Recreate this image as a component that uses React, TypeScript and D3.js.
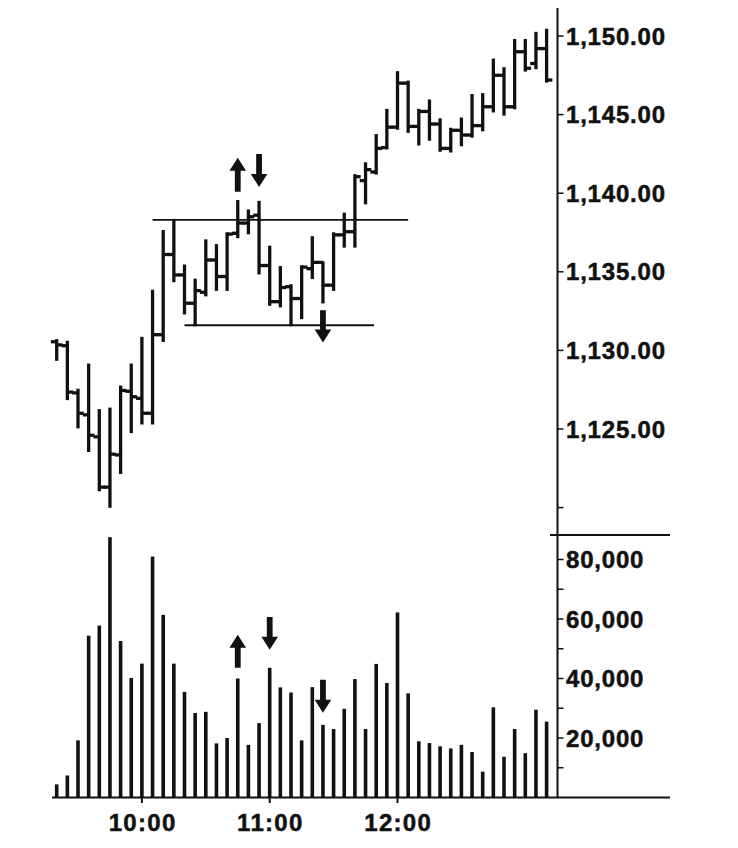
import React from 'react';
import * as d3 from 'd3';

// ---- data ----
const sessionStart = new Date(2010, 0, 4, 9, 20);
const barMinutes = 5;

const opens = [
  1130.55, 1130.3, 1127.3, 1125.9, 1124.5, 1121.3, 1123.35, 1127.4, 1126.95, 1126.0,
  1131.0, 1136.1, 1134.8, 1133.0, 1133.7, 1135.75, 1134.7, 1137.45, 1138.1, 1138.6,
  1135.4, 1133.1, 1134.05, 1133.3, 1135.2, 1135.6, 1134.15, 1137.35, 1137.55, 1140.8,
  1141.35, 1142.9, 1144.2, 1147.0, 1144.25, 1145.2, 1144.4, 1142.85, 1144.0, 1143.7,
  1144.3, 1145.5, 1147.5, 1145.5, 1149.0, 1148.25, 1149.2,
];
const highs = [
  1130.65, 1130.55, 1127.5, 1129.1, 1126.2, 1126.3, 1127.7, 1129.1, 1130.8, 1133.8,
  1137.6, 1138.3, 1135.4, 1134.5, 1137.0, 1136.7, 1137.45, 1139.5, 1138.9, 1139.45,
  1136.6, 1135.3, 1134.15, 1135.35, 1137.2, 1135.6, 1137.45, 1138.7, 1141.15, 1141.9,
  1143.7, 1145.3, 1147.7, 1147.1, 1145.3, 1145.9, 1144.7, 1144.1, 1144.75, 1146.25,
  1146.3, 1148.5, 1147.95, 1149.75, 1149.75, 1150.2, 1150.4,
];
const lows = [
  1129.4, 1126.9, 1125.1, 1123.6, 1121.1, 1120.05, 1122.2, 1124.8, 1125.35, 1125.35,
  1130.6, 1134.4, 1132.35, 1131.6, 1133.5, 1133.85, 1133.85, 1137.2, 1137.45, 1134.9,
  1132.9, 1132.8, 1131.6, 1132.05, 1134.6, 1133.05, 1133.85, 1136.6, 1136.6, 1139.35,
  1141.25, 1142.85, 1144.1, 1143.9, 1143.1, 1143.4, 1142.7, 1142.65, 1143.05, 1143.6,
  1144.0, 1145.2, 1145.0, 1145.4, 1147.8, 1147.95, 1147.1,
];
const closes = [
  1130.35, 1127.35, 1126.0, 1124.6, 1121.3, 1123.4, 1127.45, 1127.05, 1126.0, 1131.0,
  1136.1, 1134.8, 1133.0, 1133.8, 1135.75, 1134.7, 1137.4, 1138.1, 1138.5, 1135.4,
  1133.1, 1134.0, 1133.3, 1135.3, 1135.6, 1134.15, 1137.35, 1137.55, 1141.05, 1141.5,
  1142.85, 1144.2, 1147.0, 1144.25, 1145.2, 1144.4, 1142.85, 1144.0, 1143.7, 1144.3,
  1145.5, 1147.5, 1145.5, 1149.0, 1147.95, 1149.2, 1147.2,
];
const volumes = [
  4400, 7400, 19200, 54400, 57800, 87500, 52600, 40200, 45000, 81000,
  61400, 45000, 35500, 28400, 28800, 18200, 20000, 40000, 17700, 25000,
  43600, 37000, 35300, 19200, 37100, 24400, 23000, 29800, 39800, 23000,
  44900, 38500, 62200, 35000, 18900, 18300, 17200, 16500, 17700, 15300,
  8700, 30300, 13700, 23000, 14900, 29500, 25500,
];

const priceTicks = [1120, 1125, 1130, 1135, 1140, 1145, 1150];
const priceLabelValues = [1125, 1130, 1135, 1140, 1145, 1150];
const volumeTicks = [10000, 20000, 30000, 40000, 50000, 60000, 70000, 80000];
const volumeLabelValues = [20000, 40000, 60000, 80000];
const timeTickHours = [10, 11, 12];

// horizontal support / resistance lines: [start bar, end bar, price]
const levelStarts = [9, 12];
const levelEnds = [33, 29.8];
const levelPrices = [1138.3, 1131.6];

// arrows: bar index, tail value, tip value
const priceArrowBars = [17, 19, 25];
const priceArrowTails = [1140.1, 1142.5, 1132.55];
const priceArrowTips = [1142.25, 1140.4, 1130.5];
const volumeArrowBars = [17, 20, 25];
const volumeArrowTails = [43600, 60700, 39600];
const volumeArrowTips = [54700, 49700, 28500];

// ---- layout ----
const W = 738;
const H = 848;
const axisX = 557.5;
const rightEdge = 670;
const leftEdge = 52;
const INK = '#111';
const FONT = '"Liberation Sans", Arial, sans-serif';

const times = d3.range(opens.length).map((i) => d3.timeMinute.offset(sessionStart, i * barMinutes));
const barTime = (i: number) => new Date(sessionStart.getTime() + i * barMinutes * 60000);

export default function App() {
  const x = d3.scaleTime().domain([times[0], times[times.length - 1]]).range([56.7, 546.6]);
  const yP = d3.scaleLinear().domain([1120, 1150]).range([507.6, 36]);
  const yV = d3.scaleLinear().domain([0, 80000]).range([797.5, 559.5]);
  const fmtP = d3.format(',.2f');
  const fmtV = d3.format(',');
  const fmtT = d3.timeFormat('%H:%M');

  const arrow = (cx: number, yTail: number, yTip: number, key: string) => {
    const dir = yTip < yTail ? -1 : 1;
    const headLen = 13;
    const headHalf = 8.3;
    const shaftHalf = 2.9;
    const yBase = yTip - dir * headLen;
    const path = d3.path();
    path.moveTo(cx - shaftHalf, yTail);
    path.lineTo(cx - shaftHalf, yBase);
    path.lineTo(cx - headHalf, yBase);
    path.lineTo(cx, yTip);
    path.lineTo(cx + headHalf, yBase);
    path.lineTo(cx + shaftHalf, yBase);
    path.lineTo(cx + shaftHalf, yTail);
    path.closePath();
    return <path key={key} d={path.toString()} fill={INK} />;
  };

  const hourTimes = timeTickHours.map((h) => new Date(2010, 0, 4, h, 0));
  const labelStyle = {
    fontFamily: FONT,
    fontWeight: 'bold' as const,
    fontSize: 24,
    fill: INK,
    stroke: INK,
    strokeWidth: 0.5,
  };

  return (
    <svg width={W} height={H} style={{ position: 'absolute', left: 0, top: 0, background: '#fff' }}>
      <rect width={W} height={H} fill="#fff" />
      {/* level lines */}
      {levelPrices.map((p, i) => (
        <line
          key={'lvl' + i}
          x1={x(barTime(levelStarts[i]))}
          x2={x(barTime(levelEnds[i]))}
          y1={yP(p)}
          y2={yP(p)}
          stroke={INK}
          strokeWidth={1.8}
        />
      ))}
      {/* OHLC bars */}
      {times.map((t, i) => {
        const cx = x(t);
        return (
          <g key={'bar' + i} stroke={INK} strokeWidth={3.3}>
            <line x1={cx} x2={cx} y1={yP(highs[i]) - 1} y2={yP(lows[i]) + 1} />
            <line x1={cx - 5.8} x2={cx} y1={yP(opens[i])} y2={yP(opens[i])} />
            <line x1={cx} x2={cx + 5.8} y1={yP(closes[i])} y2={yP(closes[i])} />
          </g>
        );
      })}
      {/* volume bars */}
      {times.map((t, i) => (
        <rect key={'vol' + i} x={x(t) - 1.8} width={3.6} y={yV(volumes[i])} height={yV(0) - yV(volumes[i])} fill={INK} />
      ))}
      {/* arrows */}
      {priceArrowBars.map((b, i) => arrow(x(times[b]), yP(priceArrowTails[i]), yP(priceArrowTips[i]), 'pa' + i))}
      {volumeArrowBars.map((b, i) => arrow(x(times[b]), yV(volumeArrowTails[i]), yV(volumeArrowTips[i]), 'va' + i))}
      {/* axes frame */}
      <line x1={axisX} x2={axisX} y1={8} y2={798} stroke={INK} strokeWidth={2} />
      <line x1={550} x2={rightEdge} y1={535} y2={535} stroke={INK} strokeWidth={2} />
      <line x1={leftEdge} x2={rightEdge} y1={797.5} y2={797.5} stroke={INK} strokeWidth={2} />
      {/* price ticks */}
      {priceTicks.map((p) => (
        <line key={'pt' + p} x1={axisX} x2={axisX + 6} y1={yP(p)} y2={yP(p)} stroke={INK} strokeWidth={1.5} />
      ))}
      {priceLabelValues.map((p) => (
        <text key={'pl' + p} x={566} y={yP(p)} dy="0.36em" letterSpacing={0.8} {...labelStyle}>
          {fmtP(p)}
        </text>
      ))}
      {/* volume ticks */}
      {volumeTicks.map((v) => (
        <line key={'vt' + v} x1={axisX} x2={axisX + 6} y1={yV(v)} y2={yV(v)} stroke={INK} strokeWidth={1.5} />
      ))}
      {volumeLabelValues.map((v) => (
        <text key={'vl' + v} x={566} y={yV(v)} dy="0.36em" letterSpacing={0.8} {...labelStyle}>
          {fmtV(v)}
        </text>
      ))}
      {/* time ticks */}
      {hourTimes.map((t, i) => (
        <g key={'tt' + i}>
          <line x1={x(t)} x2={x(t)} y1={797.5} y2={803} stroke={INK} strokeWidth={2} />
          <text x={x(t) + 0.7} y={831} textAnchor="middle" letterSpacing={1.3} {...labelStyle}>
            {fmtT(t)}
          </text>
        </g>
      ))}
    </svg>
  );
}
